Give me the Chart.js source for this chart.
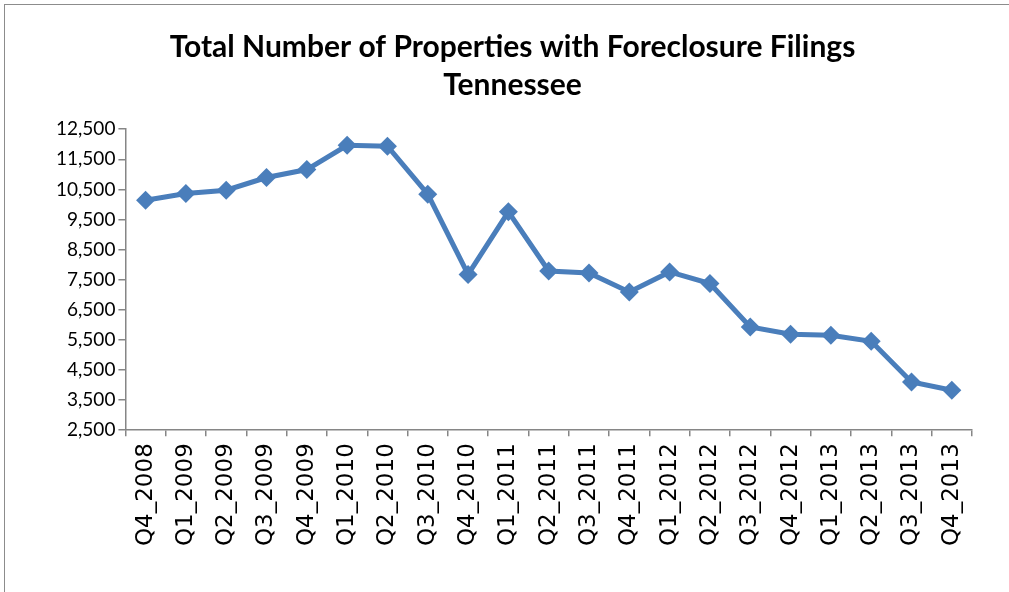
<!DOCTYPE html>
<html>
<head>
<meta charset="utf-8">
<script src="https://cdn.jsdelivr.net/npm/chart.js@4/dist/chart.umd.min.js"></script>
<style>
  html, body { margin: 0; padding: 0; background: #fff; overflow: hidden; }
  #frame { position: absolute; left: 4px; top: 4px; width: 1100px; height: 700px; border: 1px solid #8c8c8c; }
  #wrap { position: absolute; left: 0; top: 0; width: 1024px; height: 587px; }
</style>
</head>
<body>
<div id="frame">
  <div id="wrap"><canvas id="chart"></canvas></div>
</div>
<script>
// quarters on the x axis
const quarters = ['Q4_2008', 'Q1_2009', 'Q2_2009', 'Q3_2009', 'Q4_2009', 'Q1_2010', 'Q2_2010',
  'Q3_2010', 'Q4_2010', 'Q1_2011', 'Q2_2011', 'Q3_2011', 'Q4_2011', 'Q1_2012', 'Q2_2012',
  'Q3_2012', 'Q4_2012', 'Q1_2013', 'Q2_2013', 'Q3_2013', 'Q4_2013'];

// properties with foreclosure filings
const filings = [10140, 10365, 10475, 10895, 11160, 11965, 11935,
  10340, 7675, 9755, 7790, 7725, 7095, 7760, 7375,
  5930, 5690, 5655, 5455, 4105, 3830];

const titleLines = ['Total Number of Properties with Foreclosure Filings', 'Tennessee'];
const yMin = 2500, yMax = 12500, yStep = 1000;

const axisGray = '#868686';
const lineBlue = '#4a7ebb';

new Chart(document.getElementById('chart'), {
  type: 'line',
  data: {
    labels: quarters,
    datasets: [{
      data: filings,
      borderColor: lineBlue,
      backgroundColor: lineBlue,
      borderWidth: 5,
      pointStyle: 'rectRot',
      pointRadius: 9.5,
      pointHoverRadius: 9.5,
      pointBorderWidth: 0,
      tension: 0
    }]
  },
  options: {
    responsive: true,
    maintainAspectRatio: false,
    animation: false,
    events: [],
    layout: { padding: { left: 48, right: 57, top: 0, bottom: 39 } },
    plugins: {
      legend: { display: false },
      tooltip: { enabled: false },
      title: {
        display: true,
        text: titleLines,
        color: '#000',
        font: { family: 'Lato', weight: 'bold', size: 30, lineHeight: 1.27 },
        padding: { top: 23, bottom: 25 }
      }
    },
    scales: {
      x: {
        offset: true,
        grid: { display: true, drawOnChartArea: false, offset: true, color: axisGray, tickLength: 6, lineWidth: 1.5 },
        border: { color: axisGray, width: 1.5 },
        ticks: {
          color: '#000',
          autoSkip: false,
          minRotation: 90,
          maxRotation: 90,
          padding: 7,
          font: { family: 'DejaVu Sans', size: 23 }
        }
      },
      y: {
        min: yMin,
        max: yMax,
        grid: { display: true, drawOnChartArea: false, color: axisGray, tickLength: 7, lineWidth: 1.5 },
        border: { color: axisGray, width: 1.5 },
        ticks: {
          stepSize: yStep,
          color: '#000',
          padding: 3,
          font: { family: 'Lato', size: 19 },
          callback: v => v.toLocaleString('en-US')
        }
      }
    }
  }
});
</script>
</body>
</html>
